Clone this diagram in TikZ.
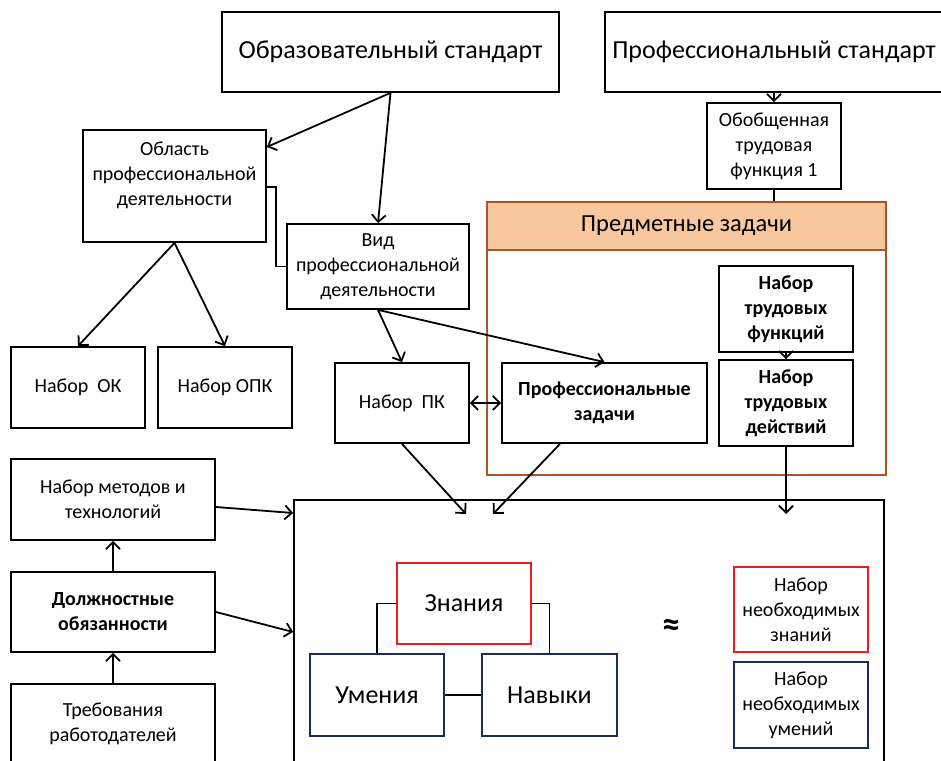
\documentclass[tikz,border=0pt]{standalone}
\usepackage{fontspec}
\setmainfont{Carlito}
\usetikzlibrary{arrows.meta}
\definecolor{redb}{HTML}{ED1C24}
\definecolor{navyb}{HTML}{1F2A5C}
\definecolor{brownb}{HTML}{A9542A}
\definecolor{orangef}{HTML}{F9C79D}
\tikzset{
  bx/.style={draw=black, line width=1.8pt, inner sep=2pt, align=center, font=\fontsize{20}{25}\selectfont},
  bxb/.style={bx, font=\fontsize{20}{25}\selectfont\bfseries},
  bxl/.style={bx, font=\fontsize{26}{30}\selectfont},
  arr/.style={line width=1.8pt, -{Straight Barb[length=7pt,width=14pt]}},
  darr/.style={line width=1.8pt, {Straight Barb[length=7pt,width=14pt]}-{Straight Barb[length=7pt,width=14pt]}},
  ln/.style={line width=1.8pt},
  txt/.style={inner sep=0pt, align=center, font=\fontsize{20}{25}\selectfont},
}
\begin{document}
\begin{tikzpicture}[x=1pt,y=-1pt]
\clip (0,0) rectangle (941,760);
\fill[white] (0,0) rectangle (941,760);

% top standards
\node[bxl, minimum width=337pt, minimum height=80pt] (obr) at (390.5,52) {Образовательный стандарт};
\node[bxl, minimum width=338pt, minimum height=80pt] (prof) at (774,52) {Профессиональный стандарт};
\node[bx, minimum width=134pt, minimum height=86pt] (ofunc) at (774,146) {Обобщенная\\трудовая\\функция 1};

% subject tasks group
\node[draw=brownb, line width=1.8pt, minimum width=399pt, minimum height=273pt, inner sep=0pt] (pz) at (686.5,338.5) {};
\node[draw=brownb, fill=orangef, line width=1.8pt, minimum width=399pt, minimum height=48pt, inner sep=0pt, font=\fontsize{24.5}{28}\selectfont] (pzh) at (686.5,226) {Предметные задачи};
\node[bxb, minimum width=134pt, minimum height=86pt] (ntf) at (786,309) {Набор\\трудовых\\функций};
\node[bxb, minimum width=134pt, minimum height=86pt] (ntd) at (786,403) {Набор\\трудовых\\действий};
\node[bxb, minimum width=205pt, minimum height=80pt] (przad) at (604.5,403) {Профессиональные\\задачи};

% left branch
\node[bx, minimum width=183pt, minimum height=112pt] (oblast) at (174.5,186) {};
\node[txt] (oblastT) at (174.5,175) {Область\\профессиональной\\деятельности};
\node[bx, minimum width=182pt, minimum height=85pt] (vid) at (378,266.5) {Вид\\профессиональной\\деятельности};
\node[bx, minimum width=134pt, minimum height=81pt] (ok) at (78,387.5) {Набор~~ОК};
\node[bx, minimum width=134pt, minimum height=81pt] (opk) at (225,387.5) {Набор ОПК};
\node[bx, minimum width=134pt, minimum height=80pt] (pk) at (402,403) {Набор~~ПК};

\node[bx, minimum width=204pt, minimum height=81pt] (metod) at (113,499.5) {Набор методов и\\технологий};
\node[bxb, minimum width=204pt, minimum height=80pt] (dolzh) at (113,612) {Должностные\\обязанности};
\node[bx, minimum width=204pt, minimum height=80pt] (treb) at (113,724) {Требования\\работодателей};

% big box
\node[draw=black, line width=1.8pt, minimum width=590pt, minimum height=320pt, inner sep=0pt] (big) at (589,660) {};
\node[bxl, draw=redb, minimum width=134pt, minimum height=81pt] (znan) at (464,603.5) {Знания};
\node[bxl, draw=navyb, minimum width=134pt, minimum height=82pt] (umen) at (377,695) {Умения};
\node[bxl, draw=navyb, minimum width=135pt, minimum height=82pt] (navyk) at (549.5,695) {Навыки};
\node[inner sep=0pt, font=\fontsize{36}{38}\selectfont\bfseries] (approx) at (671,628) {≈};
\node[bx, draw=redb, minimum width=134pt, minimum height=85pt] (nnz) at (801,609.5) {Набор\\необходимых\\знаний};
\node[bx, draw=navyb, minimum width=134pt, minimum height=86pt] (nnu) at (801,705) {Набор\\необходимых\\умений};

% free ends
\coordinate (t1) at (466,514);
\coordinate (t2) at (493,514);
\coordinate (t3) at (786,514);
\coordinate (bend) at (276,266.5);

% connectors
\draw[arr] (obr.south) -- (oblast.east |- 0,147);
\draw[arr] (obr.south) -- (vid.north);
\draw[ln] (oblast.east |- 0,187) -| (bend) -- (vid.west);
\draw[arr] (oblast.south) -- (ok.north);
\draw[arr] (oblast.south) -- (opk.north);
\draw[arr] (vid.south) -- (pk.north);
\draw[arr] (vid.south) -- (przad.north);
\draw[darr] (pk.east) -- (przad.west);
\draw[arr] (prof.south) -- (ofunc.north);
\draw[ln] (ofunc.south) -- (pzh.north -| ofunc.south);
\draw[arr] (ntf.south) -- (ntd.north);
\draw[arr] (pk.south) -- (t1);
\draw[arr] (przad.south -| 560,0) -- (t2);
\draw[arr] (ntd.south) -- (t3);
\draw[arr] (metod.east |- 0,507) -- (big.west |- 0,513);
\draw[arr] (dolzh.east) -- (big.west |- 0,632);
\draw[arr] (dolzh.north) -- (metod.south);
\draw[arr] (treb.north) -- (dolzh.south);
\draw[ln] (znan.west) -| (umen.north);
\draw[ln] (znan.east) -| (navyk.north);
\draw[ln] (umen.east) -- (navyk.west);
\end{tikzpicture}
\end{document}
